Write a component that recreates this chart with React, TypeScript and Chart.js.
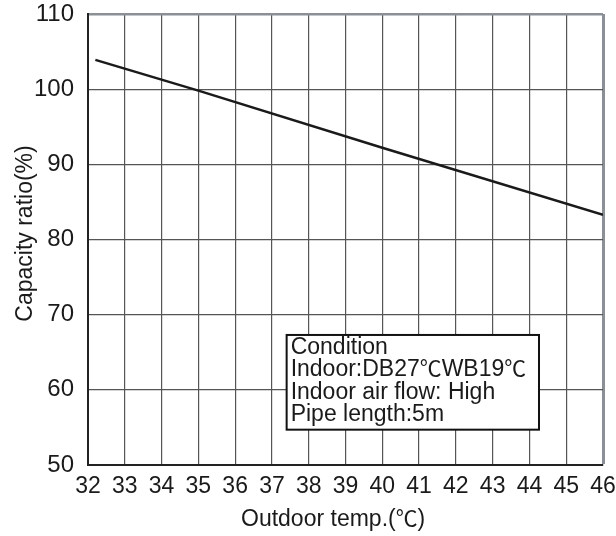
import React, { useEffect, useRef } from "react";
import { Chart, registerables } from "chart.js";

Chart.register(...registerables);

const xValues = [32.2, 35, 40, 46];
const yValues = [103.9, 99.8, 92.2, 83.3];
const xTicks = [32, 33, 34, 35, 36, 37, 38, 39, 40, 41, 42, 43, 44, 45, 46];
const yTicks = [50, 60, 70, 80, 90, 100, 110];
const xTitle = ["Outdoor temp.(", "\u2103", ")"];
const yTitle = "Capacity ratio(%)";
const noteLines = [["Condition"], ["Indoor:DB27", "\u2103", "WB19", "\u2103"], ["Indoor air flow: High"], ["Pipe length:5m"]];
const FONT = "'Liberation Sans', Arial, sans-serif";
const CJK = "'Noto Sans CJK SC', sans-serif";
const INK = "#1a1a1a";

function drawMixed(ctx: any, parts: string[], x: number, y: number, size: number) {
  let cx = x;
  parts.forEach((p) => {
    const isSym = p === "\u2103";
    ctx.font = isSym ? `${size * 0.95}px ${CJK}` : `${size}px ${FONT}`;
    ctx.fillText(p, cx, y);
    cx += ctx.measureText(p).width;
  });
}

const textPlugin = {
  id: "texts",
  afterDatasetsDraw(chart: any) {
    const { ctx, scales } = chart;
    const x0 = scales.x.getPixelForValue(37.4);
    const x1 = scales.x.getPixelForValue(44.26);
    const y0 = scales.y.getPixelForValue(67.3);
    const y1 = scales.y.getPixelForValue(54.7);
    ctx.save();
    ctx.fillStyle = "#fff";
    ctx.fillRect(x0, y0, x1 - x0, y1 - y0);
    ctx.strokeStyle = "#111";
    ctx.lineWidth = 2;
    ctx.strokeRect(x0, y0, x1 - x0, y1 - y0);
    ctx.fillStyle = INK;
    ctx.textBaseline = "alphabetic";
    ctx.textAlign = "left";
    noteLines.forEach((parts, i) => {
      drawMixed(ctx, parts, x0 + 4, y0 + 19 + i * 22.3, 23);
    });
    ctx.restore();
  },
  afterDraw(chart: any) {
    const { ctx, chartArea } = chart;
    ctx.save();
    ctx.fillStyle = INK;
    ctx.textBaseline = "alphabetic";
    ctx.textAlign = "left";
    drawMixed(ctx, xTitle, 241, 526, 23);
    ctx.translate(32, (chartArea.top + chartArea.bottom) / 2 - 6);
    ctx.rotate(-Math.PI / 2);
    ctx.textAlign = "center";
    ctx.font = `23px ${FONT}`;
    ctx.fillText(yTitle, 0, 0);
    ctx.restore();
  },
};

export default function App() {
  const ref = useRef<HTMLCanvasElement>(null);
  useEffect(() => {
    const edge = "#8a9096";
    const chart = new Chart(ref.current!, {
      type: "line",
      data: {
        datasets: [
          {
            data: xValues.map((x, i) => ({ x, y: yValues[i] })),
            borderColor: INK,
            borderWidth: 2.5,
            pointRadius: 0,
            tension: 0,
          },
        ],
      },
      options: {
        animation: false,
        responsive: false,
        layout: { padding: { top: 14, right: 13, left: 0, bottom: 0 } },
        plugins: { legend: { display: false }, tooltip: { enabled: false } },
        scales: {
          x: {
            type: "linear",
            min: 32,
            max: 46,
            afterBuildTicks: (s: any) => {
              s.ticks = xTicks.map((v) => ({ value: v }));
            },
            afterFit: (s: any) => {
              s.height = 71;
              s.paddingLeft = 0;
              s.paddingRight = 0;
            },
            ticks: { color: INK, font: { size: 23, family: FONT }, padding: 8, maxRotation: 0, autoSkip: false },
            grid: {
              color: (c: any) => (c.tick && c.tick.value === 46 ? edge : "#555"),
              lineWidth: (c: any) => (c.tick && c.tick.value === 46 ? 3 : 1.2),
              drawTicks: false,
            },
            border: { color: "#222", width: 2 },
          },
          y: {
            type: "linear",
            min: 50,
            max: 110,
            afterBuildTicks: (s: any) => {
              s.ticks = yTicks.map((v) => ({ value: v }));
            },
            afterFit: (s: any) => {
              s.width = 88;
              s.paddingTop = 0;
              s.paddingBottom = 0;
            },
            ticks: { color: INK, font: { size: 24, family: FONT }, padding: 14 },
            grid: {
              color: (c: any) => (c.tick && c.tick.value === 110 ? edge : "#555"),
              lineWidth: (c: any) => (c.tick && c.tick.value === 110 ? 2.5 : 1.2),
              drawTicks: false,
            },
            border: { color: "#222", width: 2 },
          },
        },
      },
      plugins: [textPlugin],
    });
    return () => chart.destroy();
  }, []);
  return (
    <div style={{ position: "fixed", left: 0, top: 0, width: 616, height: 536, background: "#fff" }}>
      <canvas ref={ref} width={616} height={536} style={{ display: "block" }} />
    </div>
  );
}
